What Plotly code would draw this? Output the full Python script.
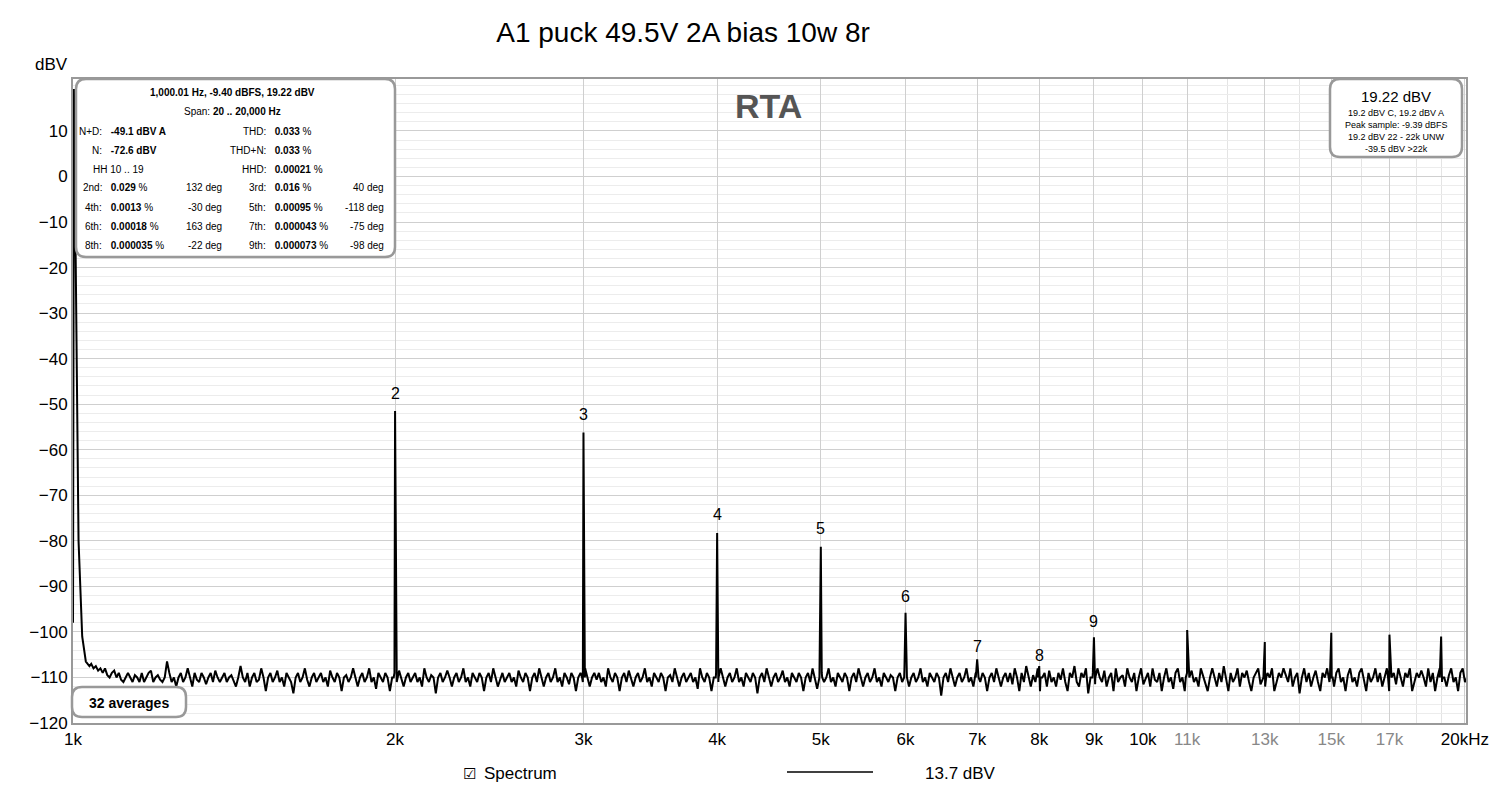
import numpy as np
import plotly.graph_objects as go

# harmonic peaks (Hz, dBV)
peak_freq = [2000, 3000, 4000, 5000, 6000, 7000, 8000, 9000, 11000, 13000, 15000, 17000, 19000]
peak_level = [-51.5, -56.2, -78.3, -81.3, -95.8, -106.0, -107.5, -101.2, -99.6, -102.2, -100.2, -100.6, -101.0]
harm_labels = ["2", "3", "4", "5", "6", "7", "8", "9"]
harm_label_level = [-50, -54.5, -76.5, -79.5, -94.5, -105.5, -107.5, -100]

# fundamental skirt
fund_freq = [1000, 1002, 1006, 1012, 1020, 1028, 1036]
fund_level = [-98.0, 19.2, -20.0, -80.0, -101.0, -106.5, -107.5]

# noise floor (approx.)
noise_str = """
-107 -108 -107.5 -108.5 -108 -109 -108 -109.5 -110 -109 -108.5 -110 -109 -110.5 -111 -110 -109 -110 -111 -109.5
-110 -111 -109 -111 -110 -109 -108.5 -111 -110 -109.5 -110.5 -111 -110 -106.5 -109 -111 -110 -112 -110 -109
-111 -110 -108 -110 -112 -109 -110.5 -111 -109 -110 -111.5 -110 -109 -111 -108.5 -110 -111 -110 -109 -111
-110 -109.5 -111 -112 -110 -107.5 -110 -111 -109 -112 -110 -109 -111 -110.5 -108 -110 -113 -110 -109 -111
-110 -108.5 -111 -110 -112 -109 -110 -111 -113.5 -110 -109 -111 -110 -108 -110.5 -112 -110 -109 -111 -110
-109 -111 -110 -112 -108.5 -110 -111 -109 -110 -113 -110 -109.5 -111 -110 -108 -110 -112 -110 -109 -111
-110 -108 -111 -110 -112.5 -109 -110 -111 -109 -110 -113 -110 -109 -111 -108.5 -110 -112 -110 -109 -111
-110 -109 -111 -110 -112 -108 -110 -111 -109.5 -110 -113.5 -110 -109 -111 -110 -108.5 -110 -112 -110 -109
-111 -110 -108 -111 -110 -112 -109 -110 -111 -109 -110 -113 -110 -109 -111 -108 -110 -112 -110.5 -109
-111 -110 -109 -111 -110 -112 -108.5 -110 -111 -109 -110 -113 -110 -109 -111 -108 -110 -112 -110 -109
-111 -110 -108 -111 -110 -112 -109 -110 -111.5 -109 -110 -113 -110 -109 -111 -108 -110 -112 -110 -109
-110.5 -109 -111 -110 -112 -108 -110 -111 -109 -110 -113 -110 -109 -111 -108.5 -110 -112 -110 -109 -111
-110 -108 -111 -110 -112 -109 -110 -111 -109 -110 -113 -110 -109.5 -111 -108 -110 -112 -110 -109 -111
-110 -109 -111 -110 -112.5 -108 -110 -111 -109 -110 -113 -110 -109 -111 -108 -110 -112 -110 -109 -111
-110 -108 -111 -110 -112 -109 -110 -111 -109 -110 -113.5 -110 -109 -111 -108 -110 -112 -110 -109 -111
-110 -108.5 -111 -110 -112 -109 -110 -111 -109 -110 -113 -110 -109 -111 -108 -110 -112.5 -110 -109 -111
-110 -108 -111 -110 -112 -109 -110 -111 -109 -110 -113 -110 -109 -111 -108 -110 -112 -110 -109 -111
-110 -108 -111 -110 -112 -109 -110 -111 -109.5 -110 -113 -110 -109 -111 -108 -110 -112 -110 -109 -111
-110 -108 -111 -110 -112 -109 -110 -111 -109 -110 -114 -110 -109 -111 -108 -110 -112 -110 -109 -111
-110 -108 -111 -110 -112 -109 -110 -111 -109 -110 -113 -110 -109 -111 -108 -110 -112 -110 -109 -111
-109 -111.5 -108 -110 -113 -109 -111 -107.5 -110 -112 -109.5 -111 -108 -113 -110 -109 -112 -108.5 -111 -110
-112 -109 -110.5 -108 -111 -113 -109 -110 -107.5 -111 -112 -109 -110 -108 -113.5 -110 -109 -111.5 -108 -110
-111 -108.5 -112 -110 -109 -113 -108 -111 -110 -109.5 -112 -108 -110 -111 -109 -113 -110 -108 -111.5 -110
-109 -112 -108 -110.5 -111 -109 -113 -110 -108 -111 -110 -112.5 -109 -108 -111 -110 -113 -109 -110 -108.5
-111 -110 -112 -108 -109.5 -111 -113 -110 -108 -110 -112 -109 -111 -107.5 -110 -113 -109 -111 -110 -108
-112 -109 -110 -108.5 -111 -113 -110 -109 -108 -111.5 -110 -112 -109 -110 -108 -113 -111 -109 -110 -108
-109.5 -111 -108 -112 -110 -109 -113.5 -110 -108 -111 -109 -112 -110 -108.5 -111 -113 -109 -110 -108 -111
-110 -112 -109 -108 -111 -110 -113 -109.5 -108 -111 -110 -112 -109 -108 -110.5 -113 -109 -111 -110 -108
-111 -109 -112 -110 -108 -113 -110 -109 -111.5 -108 -110 -112 -109 -110 -108 -113 -111 -109 -110 -108.5
-110 -112 -108 -111 -109 -113 -110 -108 -111 -110 -112 -109.5 -108 -111 -110 -113 -109 -108 -111 -110
"""
noise_level = [float(v) for v in noise_str.split()]
noise_freq = np.geomspace(1040, 20100, len(noise_level))

# narrow base points beside each peak
base_freq = [f * 0.997 for f in peak_freq] + [f * 1.003 for f in peak_freq]
base_level = [-110.0] * (2 * len(peak_freq))

allf = np.concatenate([fund_freq, noise_freq, peak_freq, base_freq])
alll = np.concatenate([fund_level, noise_level, peak_level, base_level])
order = np.argsort(allf, kind="stable")
allf, alll = allf[order], alll[order]

fig = go.Figure()
fig.add_trace(go.Scatter(x=allf, y=alll, mode="lines",
                         line=dict(color="black", width=2), showlegend=False))

for f, lab, lv in zip(peak_freq[:8], harm_labels, harm_label_level):
    fig.add_annotation(x=np.log10(f), y=lv, text=lab, showarrow=False,
                       font=dict(size=16, color="black"), yanchor="bottom")

xt = [1000, 2000, 3000, 4000, 5000, 6000, 7000, 8000, 9000, 10000, 11000, 13000, 15000, 17000, 20000]
xl = ["1k", "2k", "3k", "4k", "5k", "6k", "7k", "8k", "9k", "10k",
      "<span style='color:#888'>11k</span>", "<span style='color:#888'>13k</span>",
      "<span style='color:#888'>15k</span>", "<span style='color:#888'>17k</span>", "20kHz"]
yt = [10, 0, -10, -20, -30, -40, -50, -60, -70, -80, -90, -100, -110, -120]

fig.update_layout(
    width=1500, height=791, plot_bgcolor="white", paper_bgcolor="white",
    margin=dict(l=65, r=42, t=71, b=76),
    font=dict(family="Liberation Sans, Arial", size=16, color="black"),
    title=dict(text="A1 puck 49.5V 2A bias 10w 8r", x=0.45, y=0.982, yanchor="top", xanchor="center",
               font=dict(size=28, color="black")),
    xaxis=dict(type="log", range=[3, 4.302], tickvals=xt, ticktext=xl, automargin=False,
               showgrid=True, gridcolor="#cfcfcf", gridwidth=1, ticks="",
               minor=dict(tickvals=[12000, 14000, 16000, 18000, 19000], showgrid=True, gridcolor="#e4e4e4"),
               showline=True, linecolor="#999", linewidth=2, mirror=True, zeroline=False,
               tickfont=dict(size=17)),
    yaxis=dict(range=[-120, 21.4], tickvals=yt, showgrid=True, gridcolor="#cfcfcf", ticks="", automargin=False,
               minor=dict(dtick=2, showgrid=True, gridcolor="#ececec"),
               showline=True, linecolor="#999", linewidth=2, mirror=True, zeroline=False,
               tickfont=dict(size=17)),
)
fig.add_shape(type="line", xref="x", yref="paper", x0=4, x1=4, y0=0, y1=1,
              line=dict(color="#888", width=1))
fig.add_annotation(xref="paper", yref="paper", x=-0.002, y=1.005, text="dBV", showarrow=False,
                   xanchor="right", yanchor="bottom", font=dict(size=17))
fig.add_annotation(xref="x", yref="y", x=np.log10(4464), y=15.5, text="<b>RTA</b>", showarrow=False,
                   font=dict(size=34, color="#555"))

def rbox(x0, y0, x1, y1, r=10):
    L, R, T, B = 73, 1466, 78, 722
    def px(x): return (x - L) / (R - L)
    def py(y): return (B - y) / (B - T)
    p = (f"M {px(x0+r)},{py(y0)} L {px(x1-r)},{py(y0)} Q {px(x1)},{py(y0)} {px(x1)},{py(y0+r)} "
         f"L {px(x1)},{py(y1-r)} Q {px(x1)},{py(y1)} {px(x1-r)},{py(y1)} "
         f"L {px(x0+r)},{py(y1)} Q {px(x0)},{py(y1)} {px(x0)},{py(y1-r)} "
         f"L {px(x0)},{py(y0+r)} Q {px(x0)},{py(y0)} {px(x0+r)},{py(y0)} Z")
    fig.add_shape(type="path", xref="paper", yref="paper", path=p,
                  fillcolor="white", line=dict(color="#999", width=2.5))
    return px, py

px, py = rbox(76, 78, 395, 256)
rbox(1330, 78, 1462, 156)
rbox(72, 686, 186, 716)

def txt(x, y, s, anchor="center", size=10):
    fig.add_annotation(xref="paper", yref="paper", x=px(x), y=py(y), text=s, showarrow=False,
                       xanchor=anchor, yanchor="middle", font=dict(size=size, color="black"))

txt(232, 92, "<b>1,000.01 Hz, -9.40 dBFS, 19.22 dBV</b>")
txt(232, 111, "Span: <b>20 .. 20,000 Hz</b>")
rows = [
    (130, "N+D: <b>-49.1 dBV A</b>", "", "THD: <b>0.033</b> %", ""),
    (149, "N: <b>-72.6 dBV</b>", "", "THD+N: <b>0.033</b> %", ""),
    (168, "HH 10 .. 19", "", "HHD: <b>0.00021</b> %", ""),
    (187, "2nd: <b>0.029</b> %", "132 deg", "3rd: <b>0.016</b> %", "40 deg"),
    (206, "4th: <b>0.0013</b> %", "-30 deg", "5th: <b>0.00095</b> %", "-118 deg"),
    (225, "6th: <b>0.00018</b> %", "163 deg", "7th: <b>0.000043</b> %", "-75 deg"),
    (244, "8th: <b>0.000035</b> %", "-22 deg", "9th: <b>0.000073</b> %", "-98 deg"),
]
for y, a, b, c, d in rows:
    if ":" in a:
        la, va = a.split(":", 1)
        txt(104, y, la + ":", "right"); txt(106, y, va, "left")
    else:
        txt(118, y, a)
    if b: txt(224, y, b, "right")
    lc, vc = c.split(":", 1)
    txt(268, y, lc + ":", "right"); txt(270, y, vc, "left")
    if d: txt(386, y, d, "right")

txt(1396, 95, "19.22 dBV", size=15)
txt(1396, 112, "19.2 dBV C, 19.2 dBV A", size=9)
txt(1396, 124, "Peak sample: -9.39 dBFS", size=9)
txt(1396, 136, "19.2 dBV 22 - 22k UNW", size=9)
txt(1396, 148, "-39.5 dBV >22k", size=9)
txt(129, 702, "<b>32 averages</b>", size=14)

txt(469, 772, "☑", size=15)
txt(482, 772, "Spectrum", "left", size=17)
fig.add_shape(type="line", xref="paper", yref="paper", x0=px(787), x1=px(873), y0=py(771), y1=py(771),
              line=dict(color="black", width=1.5))
txt(960, 772, "13.7 dBV", size=17)

fig.write_html("out.html")
